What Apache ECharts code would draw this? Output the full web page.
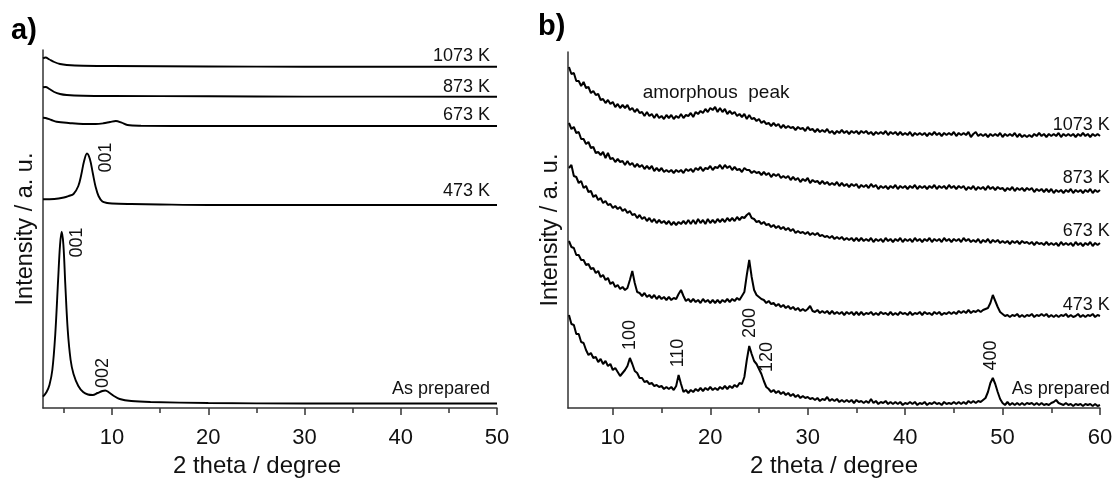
<!DOCTYPE html>
<html>
<head>
<meta charset="utf-8">
<script src="https://cdn.jsdelivr.net/npm/echarts@6/dist/echarts.min.js"></script>
<style>
  html, body { margin: 0; padding: 0; background: #fff; }
  #chart { width: 1118px; height: 478px; }
</style>
</head>
<body>
<div id="chart"></div>
<script>
// ---- panel a) : [2theta, intensity (offset, a.u.)]
const trace1073A = [[2.83,349.7],[3.1,350.5],[3.5,348.5],[4.0,346],[4.6,344],[5.3,343],[7,342.2],[10,342],[20,341.5],[30,341.3],[50,341.3]];
const trace873A = [[2.83,320.7],[3.1,321],[3.5,319],[4.0,316],[4.6,314],[5.3,313],[7,312.3],[10,312],[20,311.7],[30,311.4],[50,311.3]];
const trace673A = [[2.83,290.3],[3.1,290],[3.7,288],[4.25,286.3],[5.5,285],[7.0,284],[8.3,284],[9.1,284.7],[9.8,286],[10.4,287],[11.0,285.3],[11.6,283],[13,282.3],[20,282],[50,282]];
const trace473A = [[2.83,208.7],[4,209],[5,210.5],[5.5,212],[6,214],[6.5,222],[6.8,233],[7.1,247],[7.4,254.5],[7.7,249],[8.0,235],[8.3,221],[8.6,212],[9,206.5],[9.5,205],[10,204.5],[12,204],[15,203.5],[20,203],[50,203]];
const traceAsPrepA = [[2.83,11.3],[3.2,16],[3.5,23],[3.8,38],[4.1,73],[4.4,128],[4.6,163],[4.77,176.3],[4.95,163],[5.15,123],[5.4,78],[5.7,48],[6.0,34],[6.5,22],[7.0,16],[7.5,13.5],[8.0,13],[8.5,15],[9.0,17],[9.3,17.5],[9.7,15.5],[10.2,12],[10.8,9],[12,7],[14,6],[20,5],[30,4.5],[50,4.5]];

// ---- panel b) : intensities on a 2theta grid starting at 5.5 deg, 0.25 deg steps
const thetaStartB = 5.5;
const thetaStepB = 0.25;
const int1073B = [
  341,334,335,327,327,322,326,320,321,315,317,313,314,308,309,305,308,304,306,301,
  304,300,303,300,303,298,300,296,299,295,296,292,296,292,294,290,294,290,292,289,
  293,290,293,289,292,290,294,290,293,292,295,291,296,294,297,295,299,296,300,298,
  301,296,300,296,299,294,297,294,296,292,294,291,294,289,293,289,290,287,289,285,
  287,284,285,282,285,282,284,280,283,280,282,280,281,278,281,279,280,277,281,278,
  279,276,279,276,278,276,279,275,277,274,277,275,278,275,277,274,277,275,277,274,
  277,275,277,274,276,273,276,274,276,274,277,273,276,274,276,273,276,273,275,273,
  276,272,275,273,275,273,275,272,275,273,276,273,275,272,275,273,275,273,276,272,
  275,273,275,273,276,271,274,276,272,274,272,274,271,274,272,274,272,275,271,274,
  272,274,272,275,271,274,271,273,271,273,271,274,272,275,272,274,271,274,272,274,
  272,275,271,274,272,274,272,274,271,274,272,275,272,274,271,274,272,274,272
];
const int873B = [
  285,279,281,275,276,269,269,264,266,260,261,255,256,253,256,250,255,249,250,246,
  249,246,247,243,247,243,245,241,244,241,243,239,242,239,242,237,240,237,240,236,
  238,236,238,235,238,236,238,235,239,237,239,236,240,238,241,237,240,239,242,238,
  241,240,243,239,243,240,242,238,241,238,239,236,240,238,238,235,237,235,236,233,
  236,233,235,231,234,232,234,230,232,230,232,228,231,228,230,226,229,227,230,225,
  228,226,227,224,227,224,226,223,225,223,226,222,225,222,224,221,224,222,224,220,
  223,221,223,220,224,221,223,219,222,220,222,219,222,220,223,219,222,220,222,219,
  222,220,223,219,222,220,222,219,222,220,223,219,222,220,222,219,223,220,222,219,
  222,220,222,218,221,219,222,218,221,219,221,218,222,219,221,218,221,219,220,217,
  220,218,221,217,220,218,220,217,220,218,220,216,219,217,219,216,219,216,219,215,
  218,216,218,215,218,216,219,215,218,216,218,215,218,216,219,215,218,216,218
];
const int673B = [
  240,243,232,231,225,227,220,222,216,217,211,213,208,210,205,207,203,204,200,202,
  199,201,197,199,195,197,193,194,190,193,189,191,187,190,186,189,185,188,185,187,
  184,187,183,186,183,186,184,187,184,188,184,188,184,189,185,188,184,189,185,188,
  185,189,186,189,186,190,187,190,187,191,188,191,190,193,195,190,189,186,187,184,
  186,183,184,181,183,180,182,179,181,178,180,177,179,175,177,175,176,174,176,173,
  175,173,175,172,173,171,172,170,172,169,171,169,171,168,170,168,170,167,170,167,
  170,167,169,167,170,166,169,167,169,166,170,167,169,166,169,167,170,166,169,167,
  169,166,170,167,169,166,169,167,170,166,169,167,169,166,170,167,169,166,169,167,
  169,166,170,167,169,166,168,166,169,165,168,166,169,165,168,166,168,165,167,165,
  167,164,167,165,167,164,167,165,166,164,166,163,166,164,165,163,166,163,165,163,
  165,162,166,163,165,163,165,162,166,163,165,162,165,163,166,162,165,163,165
];
const int473B = [
  167,161,160,153,153,148,148,143,144,139,140,135,137,131,133,128,130,124,126,121,
  123,119,121,118,120,128,137,125,116,115,112,115,111,113,110,113,109,112,109,111,
  108,111,108,110,109,114,118,112,107,109,106,109,106,108,105,109,106,108,105,108,
  105,108,105,108,106,109,106,109,107,110,108,112,116,133,148,131,118,113,111,109,
  108,105,107,104,105,102,104,101,103,100,102,99,101,98,100,97,99,97,99,102,
  97,96,98,95,97,95,97,94,97,94,96,94,96,93,96,94,96,93,96,93,
  96,93,95,94,96,93,95,93,96,94,95,93,96,93,95,93,96,94,95,93,
  96,93,95,94,96,93,96,94,95,93,96,94,96,93,95,94,96,94,96,94,
  97,95,97,95,98,95,97,96,98,96,98,99,100,105,113,107,101,96,94,92,
  93,91,93,92,94,91,93,91,93,92,94,91,93,92,94,92,94,91,93,91,
  93,91,93,92,94,91,93,91,92,94,91,93,91,93,92,94,91,93,92
];
const intAsPrepB = [
  93,84,83,74,74,66,65,58,53,55,50,51,46,49,44,47,42,44,38,40,
  36,32,35,38,42,50,44,37,35,30,30,26,27,24,25,22,23,21,22,19,
  21,19,21,18,22,33,24,16,18,15,18,16,19,17,20,17,20,18,21,18,
  20,18,21,19,22,19,22,20,23,21,25,24,31,48,62,54,47,44,39,34,
  27,21,19,16,18,15,17,14,16,13,15,12,14,11,13,10,12,10,11,9,
  10,8,10,7,9,8,11,7,9,7,9,6,8,6,8,6,8,5,8,6,
  7,5,7,5,9,5,7,4,6,5,7,4,6,4,6,4,6,3,5,4,
  6,4,6,3,5,4,6,3,5,4,6,4,5,3,6,4,5,4,6,4,
  6,4,6,4,7,5,7,5,7,6,8,10,16,25,30,24,16,9,5,3,
  6,3,5,3,5,3,5,3,5,4,5,3,5,3,5,3,4,3,5,6,
  8,5,4,3,5,3,4,2,4,3,4,2,4,3,4,2,4,2,3
];

// ---- annotations: [text, 2theta, intensity]
const tempLabelsA = [['1073 K',49.27,352],['873 K',49.27,321],['673 K',49.27,293],['473 K',49.27,217],['As prepared',49.27,19]];
const peakLabelsA = [['001',9.38,250.5],['001',6.33,165.5],['002',9.06,35]];
const tempLabelsB = [['1073 K',61,283],['873 K',61,230],['673 K',61,177],['473 K',61,103],['As prepared',61,19]];
const peakLabelsB = [['100',11.75,73],['110',16.66,55],['200',24.06,85],['120',25.86,51],['400',48.84,52.5]];
const amorphLabelB = ['amorphous  peak',13.06,315];

const majorTicksA = [10,20,30,40,50];
const minorTicksA = [5,15,25,35,45];
const majorTicksB = [10,20,30,40,50,60];
const minorTicksB = [15,25,35,45,55];

const fontFam = '"Liberation Sans", Arial, sans-serif';
const ink = '#111';
const axisColor = '#333';

const onGridB = vals => vals.map((v, i) => [thetaStartB + thetaStepB * i, v]);

function traceSeries(data, xi, yi, smooth) {
  return {
    type: 'line', xAxisIndex: xi, yAxisIndex: yi, data: data,
    symbol: 'none', smooth: smooth, silent: true,
    lineStyle: { color: '#000', width: smooth ? 1.9 : 2 }
  };
}

function labelSeries(xi, yi, temps, peaks, extra) {
  const items = [];
  temps.forEach(([t, x, y]) => items.push({ name: t, value: [x, y],
    label: { align: 'right', verticalAlign: 'middle' } }));
  peaks.forEach(([t, x, y]) => items.push({ name: t, value: [x, y],
    label: { align: 'center', verticalAlign: 'middle', rotate: 90 } }));
  if (extra) items.push({ name: extra[0], value: [extra[1], extra[2]],
    label: { align: 'left', verticalAlign: 'middle', fontSize: 19 } });
  return {
    type: 'scatter', xAxisIndex: xi, yAxisIndex: yi, symbolSize: 0,
    silent: true, clip: false, data: items,
    itemStyle: { opacity: 1 },
    label: { show: true, position: [0, 0], formatter: p => p.name,
      fontSize: 18, color: ink, fontFamily: fontFam }
  };
}

function mainX(grid, min, max, ticks, namePad) {
  return {
    gridIndex: grid, type: 'value', min: min, max: max, position: 'bottom',
    name: '2 theta / degree', nameLocation: 'middle', nameGap: 41,
    nameTextStyle: { fontSize: 24, color: ink, fontFamily: fontFam, padding: namePad },
    axisLine: { show: true, lineStyle: { color: axisColor, width: 1.5 } },
    axisTick: { show: true, customValues: ticks, length: 7, lineStyle: { color: axisColor, width: 1.5 } },
    axisLabel: { customValues: ticks, fontSize: 22, color: ink, margin: 19, fontFamily: fontFam },
    splitLine: { show: false }
  };
}

function minorX(grid, min, max, ticks) {
  return {
    gridIndex: grid, type: 'value', min: min, max: max, position: 'bottom',
    axisLine: { show: false },
    axisTick: { show: true, customValues: ticks, length: 5, lineStyle: { color: axisColor, width: 1.5 } },
    axisLabel: { show: false }, splitLine: { show: false }
  };
}

function mainY(grid, max) {
  return {
    gridIndex: grid, type: 'value', min: 0, max: max,
    name: 'Intensity / a. u.', nameLocation: 'middle', nameGap: 5,
    nameTextStyle: { fontSize: 23.5, color: ink, fontFamily: fontFam },
    axisLine: { show: true, lineStyle: { color: axisColor, width: 1.5 } },
    axisTick: { show: false }, axisLabel: { show: false }, splitLine: { show: false }
  };
}

const chart = echarts.init(document.getElementById('chart'), null, { renderer: 'canvas' });
chart.setOption({
  animation: false,
  backgroundColor: '#fff',
  textStyle: { fontFamily: fontFam },
  title: [
    { text: 'a)', left: 11, top: 16, padding: 0, textStyle: { fontSize: 29, fontWeight: 'bold', color: '#000', fontFamily: fontFam } },
    { text: 'b)', left: 538, top: 12, padding: 0, textStyle: { fontSize: 29, fontWeight: 'bold', color: '#000', fontFamily: fontFam } }
  ],
  grid: [
    { left: 43, top: 50, width: 454, height: 358, containLabel: false, outerBoundsMode: 'none' },
    { left: 568, top: 52, width: 532, height: 356, containLabel: false, outerBoundsMode: 'none' }
  ],
  xAxis: [
    mainX(0, 2.83, 50, majorTicksA, [0, 26, 0, 0]),
    minorX(0, 2.83, 50, minorTicksA),
    mainX(1, 5.4, 60, majorTicksB, 0),
    minorX(1, 5.4, 60, minorTicksB)
  ],
  yAxis: [mainY(0, 358), mainY(1, 356)],
  series: [
    traceSeries(trace1073A, 0, 0, 0.35),
    traceSeries(trace873A, 0, 0, 0.35),
    traceSeries(trace673A, 0, 0, 0.35),
    traceSeries(trace473A, 0, 0, 0.35),
    traceSeries(traceAsPrepA, 0, 0, 0.35),
    traceSeries(onGridB(int1073B), 2, 1, false),
    traceSeries(onGridB(int873B), 2, 1, false),
    traceSeries(onGridB(int673B), 2, 1, false),
    traceSeries(onGridB(int473B), 2, 1, false),
    traceSeries(onGridB(intAsPrepB), 2, 1, false),
    labelSeries(0, 0, tempLabelsA, peakLabelsA, null),
    labelSeries(2, 1, tempLabelsB, peakLabelsB, amorphLabelB)
  ]
});
window.addEventListener('resize', () => chart.resize());
</script>
</body>
</html>
